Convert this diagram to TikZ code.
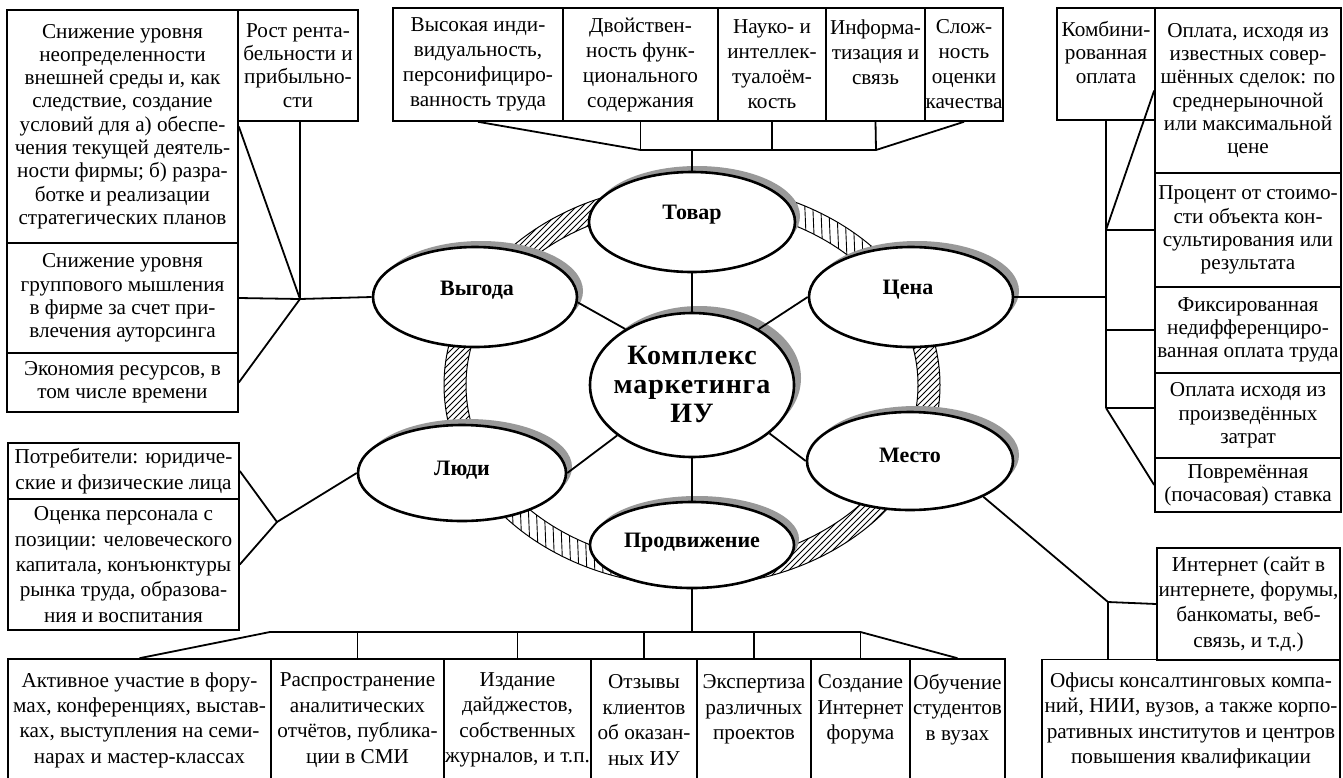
\documentclass[tikz,border=0pt]{standalone}
\usepackage{fontspec}
\setmainfont{Liberation Serif}
\usetikzlibrary{shapes.geometric,patterns}
\begin{document}
\begin{tikzpicture}[x=0.5pt,y=-0.5pt,
  bx/.style={draw, line width=0.8pt, align=center, inner sep=0pt, font=\fontsize{10.6}{11.65}\selectfont},
  bxr/.style={bx, font=\fontsize{10.6}{12.5}\selectfont},
  bxb/.style={bx, font=\fontsize{10.6}{12.7}\selectfont},
  ell/.style={ellipse, draw, line width=1.3pt, fill=white, inner sep=0pt},
  elab/.style={font=\bfseries\fontsize{11}{12}\selectfont, inner sep=0pt},
  klab/.style={font=\bfseries\fontsize{14}{14.5}\selectfont\addfontfeature{LetterSpace=3}, align=center, inner sep=0pt},
  con/.style={line width=0.9pt},
  shd/.style={fill=black!40},
  band/.style={line width=0.5pt},
  hatch/.style={line width=0.45pt}]
\fill[white] (0,0) rectangle (1343,777);
\useasboundingbox (0,0) rectangle (1343,777);

% ---------- ring band ----------
\fill[pattern=north east lines] plot[domain=90:200,samples=40] ({692+248*cos(\x)},{385-201*sin(\x)}) -- plot[domain=200:90,samples=40] ({692+226*cos(\x)},{385-179*sin(\x)}) -- cycle;
\fill[pattern=north east lines] plot[domain=-90:25,samples=40] ({692+248*cos(\x)},{385-201*sin(\x)}) -- plot[domain=25:-90,samples=40] ({692+226*cos(\x)},{385-179*sin(\x)}) -- cycle;
\begin{scope}
\clip plot[domain=25:90,samples=30] ({692+248*cos(\x)},{385-201*sin(\x)}) -- plot[domain=90:25,samples=30] ({692+226*cos(\x)},{385-179*sin(\x)}) -- cycle;
\foreach \xx in {690,698,...,950} \draw[hatch] (\xx,140) -- (\xx+8,330);
\end{scope}
\begin{scope}
\clip plot[domain=200:270,samples=30] ({692+248*cos(\x)},{385-201*sin(\x)}) -- plot[domain=270:200,samples=30] ({692+226*cos(\x)},{385-179*sin(\x)}) -- cycle;
\foreach \xx in {420,428,...,710} \draw[hatch] (\xx,400) -- (\xx+8,600);
\end{scope}
\draw[band] (692,385) ellipse [x radius=248, y radius=201];
\draw[band] (692,385) ellipse [x radius=226, y radius=179];

% ---------- shadows ----------
\fill[shd] (697,216) ellipse [x radius=103, y radius=50];
\fill[shd] (481,291) ellipse [x radius=102, y radius=50];
\fill[shd] (917,291) ellipse [x radius=102, y radius=50];
\fill[shd] (468,467) ellipse [x radius=104, y radius=48];
\fill[shd] (916,455) ellipse [x radius=103, y radius=49];
\fill[shd] (697,539) ellipse [x radius=102, y radius=43];
\fill[shd] (699,378) ellipse [x radius=102, y radius=72];

% ---------- ellipses ----------
\node[ell, minimum width=103pt, minimum height=50pt] (T) at (692,222) {};
\node[ell, minimum width=102pt, minimum height=50pt] (V) at (475,297) {};
\node[ell, minimum width=102pt, minimum height=50pt] (C) at (911,297) {};
\node[ell, minimum width=104pt, minimum height=48pt] (L) at (462,473) {};
\node[ell, minimum width=103pt, minimum height=49pt] (M) at (910,461) {};
\node[ell, minimum width=102pt, minimum height=43pt] (P) at (692,545) {};
\node[ell, minimum width=102pt, minimum height=72pt] (K) at (692,385) {};

\node[elab] (Tl) at (692,215) {Товар};
\node[elab] (Vl) at (477,290) {Выгода};
\node[elab] (Cl) at (908,290) {Цена};
\node[elab] (Ll) at (462,470) {Люди};
\node[elab] (Ml) at (910,455) {Место};
\node[elab] (Pl) at (692,543) {Продвижение};
\node[klab] (Kl) at (692,384) {Комплекс\\маркетинга\\ИУ};

% ---------- top-left boxes ----------
\node[bx, minimum width=115.5pt, minimum height=116.5pt] (A) at (122.5,126.5) {Снижение уровня\\неопределенности\\внешней среды и, как\\следствие, создание\\условий для а) обеспе-\\чения текущей деятель-\\ности фирмы; б) разра-\\ботке и реализации\\стратегических планов};
\node[bx, minimum width=60pt, minimum height=55.5pt] (B) at (298,65.5) {Рост рента-\\бельности и\\прибыльно-\\сти};
\node[bx, minimum width=115.5pt, minimum height=55pt] (Cb) at (122.5,298) {Снижение уровня\\группового мышления\\в фирме за счет при-\\влечения ауторсинга};
\node[bx, minimum width=115.5pt, minimum height=29.5pt] (D) at (122.5,382.5) {Экономия ресурсов, в\\том числе времени};

% ---------- top row ----------
\node[bxr, minimum width=85pt, minimum height=56.5pt] (Hv) at (478,64.5) {Высокая инди-\\видуальность,\\персонифициро-\\ванность труда};
\node[bxr, minimum width=77.5pt, minimum height=56.5pt] (Hd) at (640.5,64.5) {Двойствен-\\ность функ-\\ционального\\содержания};
\node[bxr, minimum width=54pt, minimum height=56.5pt] (Hn) at (772,64.5) {Науко- и\\интеллек-\\туалоём-\\кость};
\node[bxr, minimum width=49.5pt, minimum height=56.5pt] (Hi) at (875.5,64.5) {Информа-\\тизация и\\связь\\\mbox{}};
\node[bxr, minimum width=39pt, minimum height=56.5pt] (Hs) at (964,64.5) {Слож-\\ность\\оценки\\качества};

% ---------- right column ----------
\node[bx, minimum width=49pt, minimum height=56pt] (K1) at (1106,64) {Комбини-\\рованная\\оплата\\\mbox{}};
\node[bx, minimum width=93pt, minimum height=82.5pt] (O1) at (1248,90.5) {Оплата, исходя из\\известных совер-\\шённых сделок: по\\среднерыночной\\или максимальной\\цене};
\node[bx, minimum width=93pt, minimum height=57pt] (O2) at (1248,230) {Процент от стоимо-\\сти объекта кон-\\сультирования или\\результата};
\node[bx, minimum width=93pt, minimum height=43pt] (O3) at (1248,330) {Фиксированная\\недифференциро-\\ванная оплата труда};
\node[bx, minimum width=93pt, minimum height=42.5pt] (O4) at (1248,415.5) {Оплата исходя из\\произведённых\\затрат};
\node[bx, minimum width=93pt, minimum height=27pt] (O5) at (1248,485) {Повремённая\\(почасовая) ставка};

% ---------- left-bottom boxes ----------
\node[bxb, minimum width=115.5pt, minimum height=28pt] (Pt) at (123.5,471) {Потребители: юридиче-\\ские и физические лица};
\node[bxb, minimum width=115.5pt, minimum height=65.5pt] (Oc) at (123.5,564.5) {Оценка персонала с\\позиции: человеческого\\капитала, конъюнктуры\\рынка труда, образова-\\ния и воспитания};

% ---------- bottom row ----------
\node[bxb, minimum width=131.5pt, minimum height=61pt] (G1) at (139.5,720) {Активное участие в фору-\\мах, конференциях, выстав-\\ках, выступления на семи-\\нарах и мастер-классах};
\node[bxb, minimum width=86.5pt, minimum height=61pt] (G2) at (357.5,720) {Распространение\\аналитических\\отчётов, публика-\\ции в СМИ};
\node[bxb, minimum width=73.5pt, minimum height=61pt] (G3) at (517.5,720) {Издание\\дайджестов,\\собственных\\журналов, и т.п.};
\node[bxb, minimum width=53pt, minimum height=61pt] (G4) at (644,720) {Отзывы\\клиентов\\об оказан-\\ных ИУ};
\node[bxb, minimum width=57pt, minimum height=61pt] (G5) at (754,720) {Экспертиза\\различных\\проектов\\\mbox{}};
\node[bxb, minimum width=49.5pt, minimum height=61pt] (G6) at (860.5,720) {Создание\\Интернет\\форума\\\mbox{}};
\node[bxb, minimum width=47.5pt, minimum height=61pt] (G7) at (957.5,720) {Обучение\\студентов\\в вузах\\\mbox{}};

% ---------- right-bottom boxes ----------
\node[bxb, minimum width=91.5pt, minimum height=56pt] (In) at (1248.5,604) {Интернет (сайт в\\интернете, форумы,\\банкоматы, веб-\\связь, и т.д.)};
\node[bxb, minimum width=149pt, minimum height=61pt] (Of) at (1191,720.5) {Офисы консалтинговых компа-\\ний, НИИ, вузов, а также корпо-\\ративных институтов и центров\\повышения квалификации};

% ---------- connectors ----------
\coordinate (jt0) at (692,150);
\coordinate (jt1) at (640.5,150);
\coordinate (jt2) at (876,150);
\draw[con] (Hv.south) -- (jt1) -- (jt2) -- (Hs.south);
\draw[con] (Hd.south) -- (jt1);
\draw[con] (Hn.south) -- (Hn.south |- jt1);
\draw[con] (Hi.south) -- (jt2);
\draw[con] (jt0) -- (T.north);

\coordinate (j1) at (300,299);
\draw[con] (A.east) -- (j1);
\draw[con] (j1 |- B.south) -- (j1);
\draw[con] (Cb.east) -- (j1);
\draw[con] (D.east) -- (j1);
\draw[con] (j1) -- (V.west);

\coordinate (jr1) at (1106,230);
\coordinate (jr2) at (1106,297);
\coordinate (jr3) at (1106,330);
\coordinate (jr4) at (1106,408);
\draw[con] (K1.south) -- (jr4);
\draw[con] (jr1) -- (O1.west);
\draw[con] (jr1) -- (O2.west);
\draw[con] (C.east) -- (jr2);
\draw[con] (jr3) -- (O3.west);
\draw[con] (jr4) -- (jr4 -| O4.west);
\draw[con] (jr4) -- (O5.west);

\coordinate (j3) at (277,522);
\draw[con] (Pt.east) -- (j3) -- (Oc.east);
\draw[con] (j3) -- (L.west);

\coordinate (jb0) at (692,632);
\coordinate (jbL) at (270,632);
\coordinate (jbR) at (860.5,632);
\draw[con] (P.south) -- (jb0);
\draw[con] (jbL) -- (jbR);
\draw[con] (jbL) -- (G1.north);
\draw[con] (G2.north |- jbL) -- (G2.north);
\draw[con] (G3.north |- jbL) -- (G3.north);
\draw[con] (G4.north |- jbL) -- (G4.north);
\draw[con] (G5.north |- jbL) -- (G5.north);
\draw[con] (jbR) -- (G6.north);
\draw[con] (jbR) -- (G7.north);

\coordinate (jm) at (1108,602);
\draw[con] (M.-26) -- (jm) -- (In.west);
\draw[con] (jm) -- (jm |- Of.north);

\draw[con] (T.south) -- (K.north);
\draw[con] (K.south) -- (P.north);
\draw[con] (K.140) -- (V.-3);
\draw[con] (K.40) -- (C.west);
\draw[con] (K.214) -- (L.east);
\draw[con] (K.-32) -- (M.west);
\end{tikzpicture}
\end{document}
